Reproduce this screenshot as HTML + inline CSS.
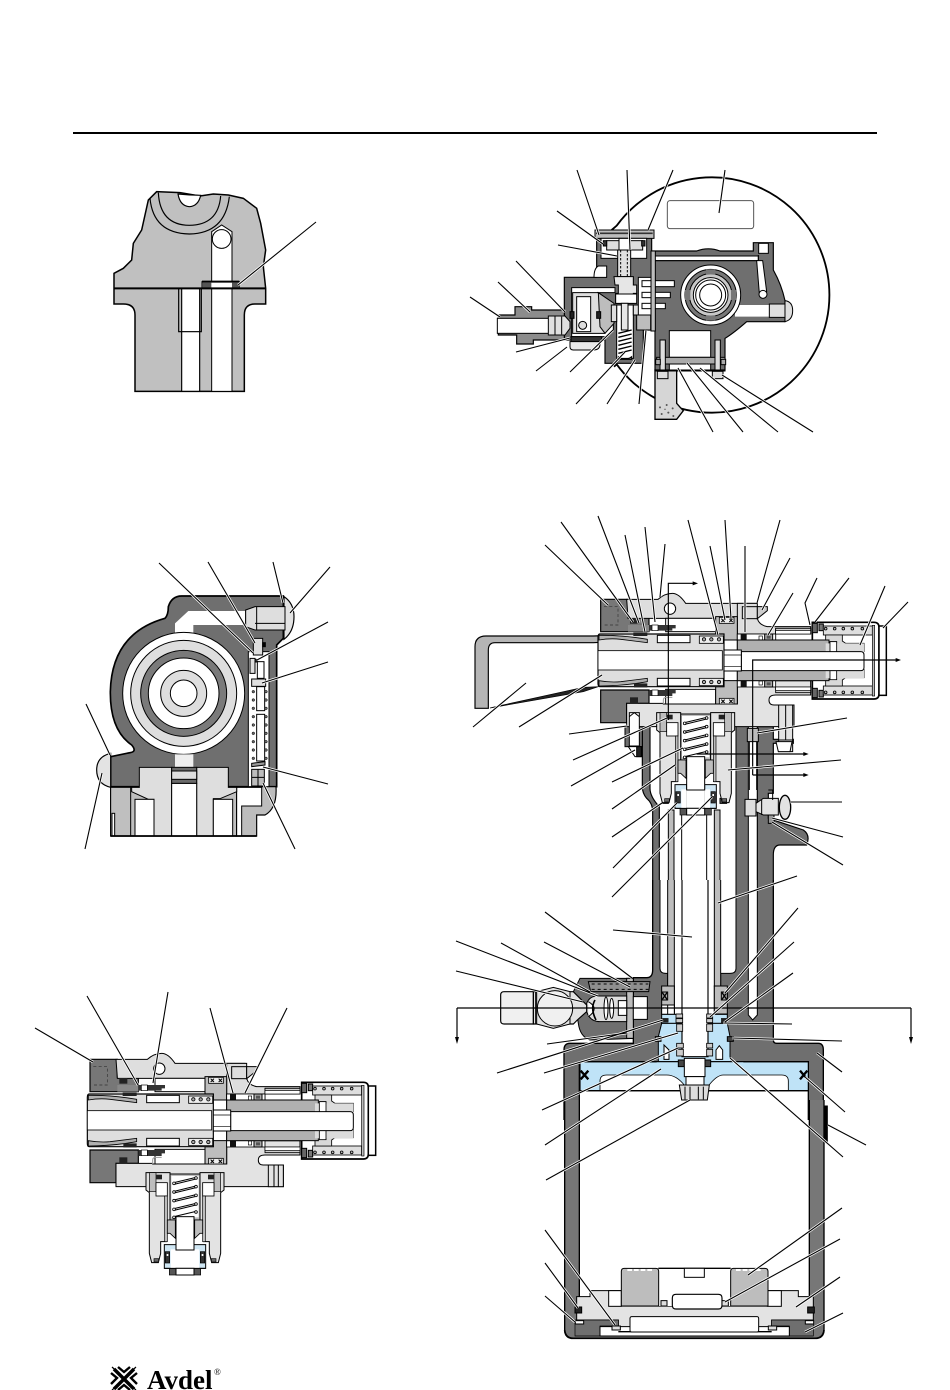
<!DOCTYPE html>
<html><head><meta charset="utf-8"><style>html,body{margin:0;padding:0;background:#fff;width:950px;height:1390px;overflow:hidden}svg{display:block}</style></head>
<body>
<svg width="950" height="1390" viewBox="0 0 950 1390" xmlns="http://www.w3.org/2000/svg" style="font-family:'Liberation Serif',serif">
<defs>
<clipPath id="cp0" clipPathUnits="userSpaceOnUse"><rect x="-500" y="0" width="3000" height="2000"/></clipPath>
<g id="coil">
<g fill="none" stroke="#000" stroke-width="3">
<path d="M432 488L498 472M432 493L498 477M432 514L498 498M432 519L498 503M432 540L498 524M432 545L498 529M432 566L498 550M432 571L498 555M432 590L498 574"/>
</g>
<g fill="#fff" stroke="#000" stroke-width="2.5">
<circle cx="432" cy="490" r="4"/><circle cx="432" cy="516" r="4"/><circle cx="432" cy="542" r="4"/><circle cx="432" cy="568" r="4"/><circle cx="432" cy="592" r="4"/>
<circle cx="498" cy="474" r="4"/><circle cx="498" cy="500" r="4"/><circle cx="498" cy="526" r="4"/><circle cx="498" cy="552" r="4"/><circle cx="498" cy="576" r="4"/>
</g>
</g>
<g id="skirt">
<path d="M348 458H420V600H410V665H392V700L385 728H365L358 700V518L348 510Z" fill="#e3e3e3" stroke="#000" stroke-width="3"/>
<path d="M358 458H378V515H358Z" fill="#bdbdbd" stroke="#000" stroke-width="2"/>
<rect x="378" y="488" width="34" height="40" fill="#fff" stroke="#000" stroke-width="2.5"/>
<rect x="378" y="464" width="18" height="14" fill="#222"/>
<rect x="404" y="528" width="8" height="137" fill="#bdbdbd" stroke="#000" stroke-width="2"/>
<rect x="372" y="716" width="14" height="10" fill="#666" stroke="#000" stroke-width="2"/>
<path d="M412 600H436V655L420 640H412Z" fill="#bdbdbd" stroke="#000" stroke-width="2.5"/>
<path d="M403 674H438V745H403Z" fill="#cfe6f3" stroke="#000" stroke-width="3"/>
<rect x="422" y="688" width="16" height="57" fill="#fff"/>
<rect x="406" y="695" width="13" height="34" fill="#333" stroke="#000" stroke-width="2"/>
<rect x="410" y="702" width="5" height="6" fill="#fff"/>
<rect x="418" y="745" width="20" height="20" fill="#555" stroke="#000" stroke-width="2"/>
</g>
<g id="halfcap">
<rect x="815" y="190" width="15" height="28" fill="#666" stroke="#000" stroke-width="3"/>
<rect x="835" y="192" width="13" height="20" fill="#777" stroke="#000" stroke-width="3"/>
<rect x="848" y="198" width="147" height="27" fill="#dedede" stroke="#000" stroke-width="2.5"/>
<g fill="#bbb" stroke="#000" stroke-width="2.5"><circle cx="855" cy="206" r="4"/><circle cx="882" cy="206" r="4"/><circle cx="908" cy="206" r="4"/><circle cx="935" cy="206" r="4"/><circle cx="965" cy="206" r="4"/></g>
<path d="M855 225H905V243L915 250H970V275H855Z" fill="#d8d8d8" stroke="#000" stroke-width="2.5"/>
<rect x="868" y="245" width="20" height="30" fill="#fff" stroke="#000" stroke-width="2.5"/>
<rect x="590" y="222" width="115" height="19" fill="#fff" stroke="#000" stroke-width="2.5"/>
<rect x="600" y="222" width="18" height="19" fill="#111"/>
<rect x="655" y="228" width="10" height="12" fill="#fff" stroke="#000" stroke-width="2"/>
<rect x="672" y="222" width="24" height="19" fill="#aaa" stroke="#000" stroke-width="3"/>
<rect x="678" y="227" width="12" height="9" fill="#555"/>
<path d="M705 205H810V222H705Z" fill="#cfcfcf" stroke="#000" stroke-width="2.5"/>
<rect x="705" y="212" width="105" height="10" fill="#fff" stroke="#000" stroke-width="2"/>
</g>
<g id="head">
<path d="M180 118H262V172H325V215H180Z" fill="#777" stroke="#000" stroke-width="3.5"/>
<path d="M180 390H325V430H258V488H180Z" fill="#777" stroke="#000" stroke-width="3.5"/>
<path d="M190 140H232V195H190" fill="none" stroke="#333" stroke-width="2" stroke-dasharray="9 7"/>
<path d="M258 118H352Q372 100 395 100Q415 100 435 130H645V175H262V172Z" fill="#dedede" stroke="#000" stroke-width="3"/>
<circle cx="388" cy="146" r="17" fill="#fff" stroke="#000" stroke-width="3"/>
<path d="M590 130H650V175Q655 195 680 200H810V222H590Z" fill="#dedede" stroke="#000" stroke-width="3"/>
<rect x="605" y="140" width="45" height="36" fill="#dedede" stroke="#000" stroke-width="3"/>
<path d="M650 140H680V152L650 176Z" fill="#ccc" stroke="#000" stroke-width="3"/>
<rect x="375" y="175" width="150" height="40" fill="#fff" stroke="#000" stroke-width="3"/>
<path d="M525 170H590V240H550V222H525Z" fill="#bdbdbd" stroke="#000" stroke-width="3"/>
<rect x="536" y="172" width="44" height="18" fill="#eee" stroke="#000" stroke-width="2.5"/>
<path d="M542 176L552 186M552 176L542 186M566 176L576 186M576 176L566 186" stroke="#000" stroke-width="3"/>
<rect x="268" y="174" width="24" height="17" fill="#222"/>
<path d="M262 195H325V215H262Z" fill="#888"/>
<path d="M325 195H405V205H395V212H325Z" fill="#333"/>
<rect x="334" y="195" width="18" height="17" fill="#fff" stroke="#000" stroke-width="2"/>
<use href="#halfcap"/>
<use href="#halfcap" transform="matrix(1 0 0 -1 0 603)"/>
<path d="M590 362H810V405H705Q685 405 685 420Q685 435 700 435H760V500H258V430H368V432H590Z" fill="#e3e3e3" stroke="#000" stroke-width="3"/>
<rect x="715" y="435" width="45" height="65" fill="#e3e3e3" stroke="#000" stroke-width="3"/>
<path d="M732 435V500M745 435V500" stroke="#000" stroke-width="3"/>
<rect x="375" y="388" width="150" height="44" fill="#fff" stroke="#000" stroke-width="3"/>
<path d="M368 432V420Q368 412 378 412H395" fill="none" stroke="#999" stroke-width="3"/>
<path d="M525 380H550V362H590V432H525Z" fill="#bdbdbd" stroke="#000" stroke-width="3"/>
<rect x="536" y="415" width="44" height="17" fill="#eee" stroke="#000" stroke-width="2.5"/>
<path d="M542 419L552 429M552 419L542 429M566 419L576 429M576 419L566 429" stroke="#000" stroke-width="3"/>
<rect x="268" y="412" width="24" height="18" fill="#222"/>
<path d="M325 390H405V400H395V408H325Z" fill="#333"/>
<rect x="334" y="390" width="18" height="17" fill="#fff" stroke="#000" stroke-width="2"/>
<rect x="590" y="240" width="280" height="122" fill="#b0b0b0" stroke="#000" stroke-width="3"/>
<path d="M1000 187H815V417H1000Q1015 417 1015 402V202Q1015 187 1000 187Z" fill="#fff" stroke="#000" stroke-width="5"/>
<use href="#halfcap"/>
<use href="#halfcap" transform="matrix(1 0 0 -1 0 603)"/>
<rect x="590" y="240" width="275" height="122" fill="#b0b0b0" stroke="#000" stroke-width="3"/>
<path d="M855 250H970V355H855Z" fill="#dcdcdc"/>
<rect x="868" y="245" width="20" height="114" fill="#fff" stroke="#000" stroke-width="2.5"/>
<rect x="995" y="196" width="7" height="212" fill="#bbb" stroke="#000" stroke-width="2"/>
<rect x="1015" y="198" width="22" height="208" fill="#fff" stroke="#000" stroke-width="4.5"/>
<path d="M602 275H960Q970 275 970 285V322Q970 332 960 332H602Z" fill="#fff" stroke="#000" stroke-width="3"/>
<path d="M178 222H550V380H178Q172 380 172 370V232Q172 222 178 222Z" fill="#dedede" stroke="#000" stroke-width="3.5"/>
<rect x="172" y="272" width="373" height="58" fill="#fff" stroke="#000" stroke-width="2.5"/>
<rect x="350" y="226" width="98" height="22" fill="#fff" stroke="#000" stroke-width="3"/>
<rect x="350" y="355" width="98" height="23" fill="#fff" stroke="#000" stroke-width="3"/>
<rect x="476" y="228" width="72" height="22" fill="#eee" stroke="#000" stroke-width="2.5"/>
<rect x="476" y="355" width="72" height="22" fill="#eee" stroke="#000" stroke-width="2.5"/>
<g fill="#aaa" stroke="#000" stroke-width="2.5"><circle cx="490" cy="238" r="5"/><circle cx="512" cy="238" r="5"/><circle cx="535" cy="238" r="5"/><circle cx="490" cy="366" r="5"/><circle cx="512" cy="366" r="5"/><circle cx="535" cy="366" r="5"/></g>
<path d="M175 226Q245 225 320 238V248L240 238Q210 234 175 240Z" fill="#b0b0b0" stroke="#000" stroke-width="2.5"/>
<path d="M175 378Q245 378 320 365V355L240 365Q210 368 175 362Z" fill="#b0b0b0" stroke="#000" stroke-width="2.5"/>
<rect x="550" y="270" width="52" height="63" fill="#fff" stroke="#000" stroke-width="3"/>
<path d="M550 285H602M550 320H602" stroke="#000" stroke-width="2"/>
<path d="M278 218H320V228H278ZM280 370H320V382H280Z" fill="#222"/>
<path d="M420 462H510V600H420Z" fill="#bdbdbd" stroke="#000" stroke-width="3"/>
<rect x="424" y="468" width="82" height="124" fill="#fff"/>
<use href="#coil"/>
<use href="#skirt"/>
<use href="#skirt" transform="matrix(-1 0 0 1 930 0)"/>
<rect x="438" y="590" width="54" height="100" fill="#fff" stroke="#000" stroke-width="3"/>
<rect x="438" y="690" width="54" height="55" fill="#fff"/>
<path d="M403 745H527M438 690H492" stroke="#000" stroke-width="3"/>
<rect x="438" y="745" width="54" height="20" fill="#fff" stroke="#000" stroke-width="3"/>
</g>
</defs>

<path d="M73 133H877" stroke="#000" stroke-width="2"/>

<!-- Figure 1 -->
<g transform="translate(100,180) scale(.33333)">
<path d="M42 280V372H70Q105 372 105 405V634H433V405Q433 372 465 372H497V325L490 260L497 210L482 130L470 85L430 55L385 45L340 42L300 48L240 38L170 35L145 60L125 150L100 190L95 240L70 265Z" fill="#c0c0c0" stroke="#000" stroke-width="4.5"/>
<path d="M150 55Q160 160 268 162Q375 160 388 50M175 38Q180 135 268 136Q355 135 362 48" fill="none" stroke="#000" stroke-width="3.5"/>
<path d="M234 42Q240 78 268 80Q295 78 302 46Q268 45 234 42Z" fill="#fff" stroke="#000" stroke-width="3.5"/>
<path d="M335 155L365 135L396 155V634H335Z" fill="#fff" stroke="#000" stroke-width="3"/>
<circle cx="365" cy="177" r="28" fill="#fff" stroke="#000" stroke-width="3"/>
<rect x="245" y="325" width="54" height="309" fill="#fff" stroke="#000" stroke-width="3.5"/>
<rect x="236" y="325" width="68" height="130" fill="none" stroke="#000" stroke-width="3.5"/>
<rect x="306" y="305" width="112" height="20" fill="#fff" stroke="#000" stroke-width="3"/>
<rect x="308" y="308" width="26" height="17" fill="#555"/>
<rect x="396" y="308" width="22" height="17" fill="#555"/>
<path d="M306 305H418" stroke="#000" stroke-width="6"/>
<path d="M42 325H497" stroke="#000" stroke-width="6"/>
</g>

<!-- Figure 2 -->
<g transform="translate(470,170) scale(.33333)" stroke="#000" stroke-width="3">
<path d="M425 180L440 167A353 353 0 1 1 440 583L432 590" fill="none" stroke-width="5.5"/>
<rect x="592" y="92" width="259" height="84" rx="8" fill="#fff" stroke="#555" stroke-width="3"/>
<path d="M555 600V748H620L640 722Q630 712 620 700V600Z" fill="#d6d6d6" stroke-width="4"/>
<g fill="#555" stroke="none"><circle cx="570" cy="712" r="3"/><circle cx="590" cy="705" r="3"/><circle cx="608" cy="715" r="3"/><circle cx="575" cy="732" r="3"/><circle cx="595" cy="728" r="3"/><circle cx="610" cy="738" r="3"/><circle cx="585" cy="718" r="2"/></g>
<path d="M545 243H680Q715 230 750 243H850V218H910V300Q935 345 945 392V455H830Q790 490 765 505V600H555V243Z" fill="#6f6f6f" stroke-width="3.5"/>
<rect x="545" y="258" width="320" height="14" fill="#fff"/>
<path d="M545 272H865V255" fill="none"/>
<rect x="866" y="220" width="29" height="30" fill="#fff"/>
<path d="M860 272L868 370L890 365L878 272Z" fill="#fff"/>
<circle cx="879" cy="373" r="12" fill="#fff"/>
<path d="M795 405H900V440H795Z" fill="#fff" stroke="none"/>
<path d="M898 402H945V442H898Z" fill="#dedede"/>
<path d="M945 392Q968 395 968 422Q968 450 945 455Z" fill="#dedede"/>
<circle cx="722" cy="375" r="90" fill="#fff" stroke-width="3"/>
<circle cx="722" cy="375" r="77" fill="#777"/>
<circle cx="722" cy="375" r="64" fill="#c8c8c8"/>
<circle cx="722" cy="375" r="52" fill="#fff"/>
<circle cx="722" cy="375" r="45" fill="#fff"/>
<circle cx="722" cy="375" r="33" fill="#fff"/>
<rect x="708" y="298" width="28" height="15" fill="#777" stroke="none"/>
<rect x="708" y="437" width="28" height="15" fill="#777" stroke="none"/>
<rect x="645" y="360" width="16" height="30" fill="#777" stroke="none"/>
<rect x="783" y="360" width="16" height="30" fill="#777" stroke="none"/>
<rect x="598" y="482" width="124" height="80" fill="#fff"/>
<rect x="560" y="562" width="205" height="20" fill="#aaa"/>
<rect x="598" y="582" width="124" height="18" fill="#fff"/>
<g fill="#dedede"><rect x="570" y="510" width="16" height="115"/><rect x="735" y="510" width="16" height="115"/></g>
<rect x="555" y="600" width="210" height="3" fill="#000"/>
<path d="M380 200H545V480H520V580H405V510H283V322H380Z" fill="#6f6f6f" stroke-width="3.5"/>
<path d="M375 180H552V205H375Z" fill="#bdbdbd"/>
<path d="M378 190H548" stroke-width="5" stroke="#333"/>
<path d="M283 420H185V410H135V435H85V495H140V522H190V510H283Z" fill="#8c8c8c" stroke-width="3.5"/>
<rect x="393" y="205" width="137" height="60" fill="#fff" stroke-width="3"/>
<rect x="410" y="212" width="108" height="28" fill="#dedede"/>
<rect x="400" y="212" width="10" height="16" fill="#333"/>
<rect x="515" y="212" width="10" height="16" fill="#333"/>
<path d="M447 205H478V240H447Z" fill="#fff"/>
<path d="M443 240H482V320H443Z" fill="#e0e0e0"/>
<path d="M452 240V318M472 240V318" stroke-dasharray="7 5" fill="none"/>
<path d="M372 322Q372 295 385 288H410V322Z" fill="#fff"/>
<path d="M305 353H435V368H385L430 400V480L410 500H305Z" fill="#fff"/>
<path d="M308 368H385L405 420V490H308Z" fill="#dedede"/>
<path d="M385 368L432 400V460L405 490L390 470Z" fill="#bdbdbd"/>
<rect x="320" y="380" width="42" height="105" fill="#fff"/>
<circle cx="338" cy="466" r="12" fill="#dedede"/>
<path d="M303 500H395V515H303Z" fill="#333"/>
<path d="M300 515H390V522Q390 540 370 540H310Q300 540 300 530Z" fill="#e9e9e9"/>
<rect x="300" y="425" width="12" height="20" fill="#222"/>
<rect x="380" y="425" width="12" height="20" fill="#222"/>
<rect x="82" y="445" width="155" height="45" fill="#fff"/>
<path d="M235 438H285L300 455V475L285 495H235Z" fill="#e0e0e0"/>
<path d="M255 438V495M275 440V493" fill="none"/>
<path d="M432 320H490V345H500V370H490V400H437V370H445V345H435Z" fill="#e6e6e6"/>
<path d="M437 372H500V400H437Z" fill="#fff"/>
<path d="M440 405H490V565H440Z" fill="#fff"/>
<rect x="454" y="400" width="20" height="80" fill="#e6e6e6"/>
<g fill="none" stroke-width="4"><path d="M445 490L485 480M445 502L485 492M445 514L485 504M445 526L485 516M445 538L485 528M445 550L485 540"/></g>
<path d="M445 560Q465 575 485 560V568H445Z" fill="#6f6f6f"/>
<path d="M424 405H440V455H424ZM490 405H520V435H490Z" fill="#dedede"/>
<path d="M505 322H555V435H505Z" fill="#fff"/>
<path d="M500 435H542V480H500Z" fill="#bdbdbd"/>
<rect x="516" y="332" width="97" height="18" fill="#fff"/>
<rect x="516" y="367" width="85" height="16" fill="#fff"/>
<rect x="516" y="400" width="70" height="16" fill="#fff"/>
<rect x="543" y="243" width="13" height="240" fill="#bdbdbd"/>
<g fill="#aaa"><rect x="557" y="568" width="14" height="16"/><rect x="753" y="568" width="14" height="16"/><rect x="562" y="604" width="32" height="22" fill="#ddd"/><rect x="727" y="604" width="32" height="22" fill="#ddd"/></g>
</g>

<!-- Figure 3 -->
<g transform="translate(80,560) scale(.33333)" stroke="#000" stroke-width="3">
<path d="M92 590L150 578Q172 575 155 555Q90 510 91 395Q95 220 255 175Q265 165 265 140Q275 108 305 108H610V235L590 255V680H92Z" fill="#6f6f6f" stroke-width="5"/>
<path d="M92 580Q50 590 50 630Q50 672 92 682Z" fill="#e3e3e3" stroke-width="3.5"/>
<path d="M612 110Q642 130 642 170Q642 215 612 238Z" fill="#e3e3e3" stroke-width="3.5"/>
<path d="M285 218V190L325 153H495V195H340V222Z" fill="#fff" stroke="none"/>
<path d="M497 150L525 140H615V210H525L497 200Z" fill="#dedede"/>
<path d="M530 140V210M525 190H615" fill="none"/>
<circle cx="311" cy="400" r="183" fill="#fff"/>
<circle cx="311" cy="400" r="159" fill="#dedede"/>
<circle cx="311" cy="400" r="129" fill="#7a7a7a"/>
<circle cx="311" cy="400" r="106" fill="#fff"/>
<circle cx="311" cy="400" r="69" fill="#dedede"/>
<circle cx="311" cy="400" r="40" fill="#fff"/>
<rect x="285" y="583" width="55" height="40" fill="#eee" stroke="none"/>
<rect x="505" y="275" width="62" height="408" fill="#fff"/>
<path d="M510 295H525V340H510Z" fill="#dedede"/>
<path d="M520 235H548V285H520Z" fill="#dedede"/>
<rect x="548" y="248" width="8" height="12" fill="#000"/>
<rect x="525" y="298" width="8" height="8" fill="#333"/>
<rect x="532" y="305" width="20" height="50" fill="#fff"/>
<rect x="515" y="357" width="42" height="22" fill="#e0e0e0"/>
<rect x="530" y="380" width="24" height="72" fill="#fff"/>
<rect x="530" y="463" width="24" height="140" fill="#fff"/>
<g fill="#666" stroke-width="1.5"><circle cx="520" cy="395" r="4"/><circle cx="520" cy="420" r="4"/><circle cx="520" cy="445" r="4"/><circle cx="520" cy="470" r="4"/><circle cx="520" cy="495" r="4"/><circle cx="520" cy="520" r="4"/><circle cx="520" cy="545" r="4"/><circle cx="520" cy="570" r="4"/><circle cx="520" cy="595" r="4"/><circle cx="558" cy="395" r="4"/><circle cx="558" cy="420" r="4"/><circle cx="558" cy="445" r="4"/><circle cx="558" cy="470" r="4"/><circle cx="558" cy="495" r="4"/><circle cx="558" cy="520" r="4"/><circle cx="558" cy="545" r="4"/><circle cx="558" cy="570" r="4"/><circle cx="558" cy="595" r="4"/></g>
<path d="M515 610L555 605V615L515 620Z" fill="#999"/>
<rect x="515" y="628" width="38" height="50" fill="#bdbdbd"/>
<path d="M534 628V678M515 652H553" fill="none"/>
<path d="M92 682H470V828H92Z" fill="#bfbfbf" stroke-width="3.5"/>
<path d="M530 680H588Q592 745 555 765H530V828H470V680Z" fill="#bdbdbd" stroke-width="3.5"/>
<path d="M470 682H545V738H485V828H470Z" fill="#fff"/>
<rect x="92" y="682" width="60" height="146" fill="#bfbfbf"/>
<rect x="96" y="760" width="8" height="68" fill="#fff"/>
<path d="M178 622H275V828H222V718H205L155 695V682H178Z" fill="#dedede"/>
<path d="M350 622H445V682H470V695L420 716H400V828H350Z" fill="#dedede"/>
<rect x="165" y="718" width="57" height="110" fill="#fff"/>
<rect x="400" y="718" width="58" height="110" fill="#fff"/>
<rect x="275" y="670" width="75" height="158" fill="#fff"/>
<rect x="275" y="622" width="75" height="48" fill="#6a6a6a"/>
<rect x="275" y="633" width="75" height="25" fill="#dedede"/>
<path d="M92 828H530" stroke-width="5"/>
</g>

<!-- Figure 4 -->
<g transform="translate(30,1020) scale(.33333)">
<use href="#head"/>
</g>

<!-- Figure 5 upper -->
<g transform="translate(470,580) scale(.33333)" stroke="#000" stroke-width="3">
<path d="M517 430H540V625Q540 650 568 680V906H548V695Q548 670 530 655Q517 640 517 620Z" fill="#6f6f6f" stroke-width="3.5"/>
<rect x="798" y="430" width="37" height="476" fill="#6f6f6f"/>
<path d="M862 440H910V478H970V490H910V640H895V715L1000 750Q1022 765 1010 795H930Q910 795 910 825V906H862Z" fill="#6f6f6f" stroke-width="3.5"/>
<rect x="465" y="438" width="52" height="62" fill="#6f6f6f"/>
<rect x="595" y="690" width="17" height="216" fill="#bdbdbd"/>
<rect x="733" y="690" width="17" height="216" fill="#bdbdbd"/>
<path d="M635 700V906M710 700V906" fill="none"/>
<path d="M578 655H595V670H578ZM750 655H770V670H750Z" fill="#666"/>
<path d="M15 385V200Q15 168 48 168H370Q420 165 460 175H530V190H460Q410 185 370 188H75Q55 188 55 210V385Z" fill="#b5b5b5" stroke-width="3.5"/>
<path d="M60 384L340 335L385 320L340 322L85 378Z" fill="#222" stroke-width="2"/>
<use href="#head" transform="translate(212,-60)" stroke="none"/>
<path d="M926 375H968V515H926Z" fill="#e3e3e3"/>
<path d="M947 375V480M926 480H968" fill="none"/>
<path d="M918 485H966L960 515H925Z" fill="#fff"/>
<rect x="478" y="398" width="30" height="100" fill="#fff"/>
<path d="M478 410L493 398L508 410" fill="#fff"/>
<path d="M475 500H515V530H495Z" fill="#fff"/>
<rect x="500" y="500" width="14" height="30" fill="#222"/>
<path d="M832 445H865V485H832Z" fill="#bdbdbd"/>
<path d="M838 485V630M860 485V630" fill="none" stroke="#000"/>
<path d="M825 658H858V708H825Z" fill="#dedede"/>
<path d="M858 670L880 655H925V705H880L858 695Z" fill="#e3e3e3"/>
<path d="M875 660V705M895 630H908V660" fill="none"/>
<path d="M895 705H912V730H895Z" fill="#999"/>
<ellipse cx="945" cy="682" rx="17" ry="36" fill="#e3e3e3" stroke-width="4"/>
<g fill="none" stroke-width="3.5">
<path d="M595 420V10H672M680 522H1005M848 585V240H1280M848 585H1005"/>
</g>
<g fill="#000" stroke="none">
<path d="M684 10L668 4V16Z"/><path d="M1016 522L1000 516V528Z"/><path d="M1016 585L1000 579V591Z"/><path d="M1293 240L1277 234V246Z"/>
</g>
</g>

<!-- Figure 6 -->
<g transform="translate(490,880) scale(.33333)" stroke="#000" stroke-width="3" clip-path="url(#cp0)">
<path d="M488 -6V270Q488 293 470 293H430V490H240Q222 490 222 510V720H268V545H955V720H1000V510Q1000 490 985 490H860Q850 490 850 480V-6Z" fill="#6f6f6f" stroke="none"/>
<path d="M488 -6V270Q488 293 470 293H430V490H240Q222 490 222 510V720M268 720V545H955V720M1000 720V510Q1000 490 985 490H860Q850 490 850 480V-6" fill="none" stroke-width="4"/>
<path d="M775 -6H802V405L788 420L775 405Z" fill="#fff"/>
<path d="M510 -6H738V265Q738 280 720 280H692V318H673V405H553V318H533V280H528Q510 280 510 265Z" fill="#fff"/>
<rect x="533" y="-6" width="20" height="324" fill="#bdbdbd"/>
<rect x="673" y="-6" width="19" height="324" fill="#bdbdbd"/>
<path d="M515 318H553V400H515Z" fill="#bdbdbd"/>
<path d="M673 318H712V402H673Z" fill="#bdbdbd"/>
<rect x="515" y="375" width="38" height="28" fill="#fff"/>
<path d="M533 375V403" fill="none"/>
<rect x="515" y="336" width="18" height="24" fill="#aaa"/>
<path d="M517 338L531 358M531 338L517 358" stroke-width="4"/>
<rect x="694" y="336" width="18" height="24" fill="#aaa"/>
<path d="M696 338L710 358M710 338L696 358" stroke-width="4"/>
<path d="M515 403H578V430H515Z" fill="#bfe3f7"/>
<path d="M650 403H712V430H650Z" fill="#bfe3f7"/>
<path d="M505 470L515 430H712L720 470V530L725 545H505Z" fill="#bfe3f7"/>
<rect x="515" y="415" width="20" height="12" fill="#222" stroke-width="1"/>
<rect x="694" y="415" width="18" height="14" fill="#222" stroke-width="1"/>
<rect x="496" y="470" width="17" height="14" fill="#999"/>
<rect x="712" y="470" width="18" height="14" fill="#444"/>
<path d="M270 545H955V632H270Z" fill="#bfe3f7" stroke-width="3.5"/>
<path d="M330 632V603Q330 585 350 585H530Q560 585 585 618V632Z" fill="#fff" stroke-width="2.5"/>
<path d="M895 632V603Q895 585 875 585H700Q680 585 655 618V632Z" fill="#fff" stroke-width="2.5"/>
<path d="M270 632H955" stroke-width="4"/>
<path d="M576 -6V530H654V-6" fill="#fff" stroke-width="3.5"/>
<path d="M270 545H500M760 545H955" fill="none" stroke-width="4"/>
<path d="M522 495L537 510V538H522ZM678 510L688 497L698 510V538H678Z" fill="#fff"/>
<g fill="#ccc" stroke-width="2.5">
<rect x="558" y="402" width="20" height="12"/><rect x="558" y="416" width="20" height="12"/><rect x="560" y="432" width="18" height="22"/>
<rect x="650" y="402" width="18" height="12"/><rect x="650" y="416" width="18" height="12"/><rect x="650" y="432" width="18" height="22"/>
<rect x="560" y="490" width="20" height="14"/><rect x="560" y="508" width="20" height="20"/>
<rect x="650" y="490" width="18" height="14"/><rect x="650" y="508" width="18" height="20"/>
</g>
<path d="M565 540H583V560H565ZM645 540H662V560H645Z" fill="#444"/>
<path d="M583 535H645V590H583Z" fill="#fff"/>
<path d="M588 590H642V615H588Z" fill="#fff"/>
<path d="M568 615H658L652 660H575Z" fill="#ddd"/>
<path d="M585 620V658M600 620V658M625 620V658M640 620V658" fill="none"/>
<path d="M272 572L295 598M295 572L272 598" stroke-width="7"/>
<path d="M930 572L952 598M952 572L930 598" stroke-width="7"/>
<path d="M250 335L270 295H430V475L300 480Q270 470 265 430Z" fill="#6f6f6f" stroke-width="3"/>
<rect x="410" y="295" width="20" height="180" fill="#bdbdbd"/>
<path d="M295 305H480L476 335H302Z" fill="#8f8f8f"/>
<path d="M305 312H475M305 328H475" stroke-dasharray="9 9" stroke-width="3" fill="none"/>
<path d="M430 350H472V418H430Z" fill="#fff"/>
<path d="M290 370Q300 345 330 348H410V425H330Q300 425 290 395Z" fill="#dedede"/>
<ellipse cx="348" cy="385" rx="6" ry="34" fill="#fff"/><ellipse cx="365" cy="385" rx="6" ry="30" fill="#fff"/>
<path d="M385 362H410V406H385Z" fill="#fff"/>
<path d="M295 365Q330 385 295 410" fill="#fff"/>
<path d="M315 360Q300 385 318 420" fill="none" stroke-width="5"/>
<path d="M250 335H130V432H250L262 420L290 395V375Z" fill="#e3e3e3" stroke-width="3.5"/>
<path d="M140 335L190 322L240 335V432L190 445L140 432Z" fill="#e3e3e3"/>
<circle cx="195" cy="385" r="53" fill="#f0f0f0"/>
<path d="M130 335H42Q32 335 32 345V422Q32 432 42 432H130Z" fill="#f0f0f0" stroke-width="3.5"/>
<path d="M130 335V432M137 335V432" fill="none"/>
</g>

<!-- Figure 7 -->
<g transform="translate(550,1100) scale(.33333)" stroke="#000" stroke-width="3">
<path d="M44 0H88V590H778V0H822V688Q822 715 795 715H70Q44 715 44 688Z" fill="#777" stroke="none"/>
<path d="M44 0V688Q44 715 70 715H795Q822 715 822 688V0M88 0V590M778 0V590" fill="none" stroke-width="4"/>
<path d="M822 18H832V125H822Z" fill="#000"/>
<path d="M80 590H120V572H745V590H790V660H665V695H205V660H80Z" fill="#e3e3e3" stroke-width="3"/>
<path d="M75 660H205V678H150V708H75Z" fill="#6f6f6f" stroke-width="2"/>
<path d="M790 660H665V678H718V708H790Z" fill="#6f6f6f" stroke-width="2"/>
<path d="M150 680H718V708H150Z" fill="#fff" stroke-width="3"/>
<path d="M205 695H665" stroke-width="4"/>
<rect x="240" y="650" width="386" height="46" rx="5" fill="#fff"/>
<rect x="176" y="572" width="38" height="47" fill="#fff"/>
<rect x="652" y="572" width="42" height="47" fill="#fff"/>
<path d="M214 618H652" stroke-width="3.5"/>
<rect x="325" y="505" width="217" height="113" fill="#fff" stroke="none"/>
<path d="M325 505H542" stroke-width="4"/>
<rect x="403" y="505" width="60" height="27" fill="#fff"/>
<path d="M222 505H318Q326 505 326 515V618H214V515Q214 505 222 505Z" fill="#bdbdbd"/>
<path d="M550 505H645Q654 505 654 515V618H542V515Q542 505 550 505Z" fill="#bdbdbd"/>
<path d="M232 510H312M558 510H638" stroke="#fff" stroke-width="6" stroke-dasharray="14 6"/>
<path d="M367 594Q367 583 378 583H505Q516 583 516 594V616Q516 627 505 627H378Q367 627 367 616Z" fill="#fff" stroke-width="3.5"/>
<path d="M333 602H351V618H333ZM516 602H535V618H516Z" fill="#ddd"/>
<rect x="75" y="621" width="20" height="18" fill="#222"/>
<rect x="773" y="621" width="20" height="18" fill="#222"/>
<rect x="76" y="662" width="25" height="10" fill="#fff"/>
<rect x="766" y="662" width="25" height="10" fill="#fff"/>
<rect x="186" y="678" width="25" height="12" fill="#ddd"/>
<rect x="655" y="678" width="25" height="12" fill="#ddd"/>
<path d="M44 690Q46 715 70 715H795Q820 715 822 690" fill="none" stroke-width="5"/>
</g>

<path d="M457 1008H911M457 1008V1038M911 1008V1038" fill="none" stroke="#000" stroke-width="1.2"/>
<path d="M457 1044L455 1037H459Z M911 1044L909 1037H913Z"/>

<path fill="none" stroke="#fff" stroke-width="2.6" d="M316 222L238 285M577 170L599 235M627 170L630 250M673 170L648 230M725 170L719 213M557 211L603 244M558 245L617 256M516 261L565 312M498 282L530 312M470 297L500 317M516 352L570 338M536 371L567 347M570 372L613 330M576 404L625 352M607 404L635 360M639 404L646 330M713 432L678 368M743 432L687 363M778 432L700 368M813 432L722 375M159 563L253 653M208 562L255 643M273 562L283 603M330 567L290 613M328 622L257 660M328 662L262 683M328 784L263 767M295 849L263 783M86 704L110 755M85 849L102 773M35 1028L93 1062M87 996L138 1085M168 992L153 1083M210 1008L233 1093M287 1008L245 1093M545 545L608 605M561 522L633 622M598 516L639 623M625 535L645 632M645 527L655 622M665 544L660 597M688 520L718 635M710 546L725 620M725 520L731 619M745 546L745 632M780 520L757 603M790 558L762 610M793 593L768 635M817 578L805 603L810 625M849 578L815 622M885 586L860 645M908 602L883 628M473 727L526 683M519 727L602 675M569 734L627 726M573 760L667 718M571 786L635 750M612 782L683 748M612 809L675 765M612 837L662 803M613 868L677 803M612 897L712 797M847 718L757 733M841 760L728 770M842 802L790 802M843 837L772 818M843 865L772 822M797 876L718 903M613 930L692 937M545 912L632 978M544 942L630 987M501 943L590 992M456 941L598 996M456 971L583 1002M798 908L725 993M794 942L710 1017M793 973L725 1022M792 1024L723 1023M842 1041L732 1038M842 1072L817 1053M845 1112L805 1077M547 1044L627 1033M497 1073L663 1020M544 1073L678 1033M542 1110L678 1048M545 1145L661 1069M546 1180L690 1100M843 1157L730 1058M866 1145L828 1125M842 1208L748 1275M840 1239L725 1302M840 1277L796 1307M843 1313L805 1332M545 1230L615 1325M545 1263L578 1308M545 1296L575 1322"/>
<path fill="none" stroke="#000" stroke-width="1.1" d="M316 222L238 285M577 170L599 235M627 170L630 250M673 170L648 230M725 170L719 213M557 211L603 244M558 245L617 256M516 261L565 312M498 282L530 312M470 297L500 317M516 352L570 338M536 371L567 347M570 372L613 330M576 404L625 352M607 404L635 360M639 404L646 330M713 432L678 368M743 432L687 363M778 432L700 368M813 432L722 375M159 563L253 653M208 562L255 643M273 562L283 603M330 567L290 613M328 622L257 660M328 662L262 683M328 784L263 767M295 849L263 783M86 704L110 755M85 849L102 773M35 1028L93 1062M87 996L138 1085M168 992L153 1083M210 1008L233 1093M287 1008L245 1093M545 545L608 605M561 522L633 622M598 516L639 623M625 535L645 632M645 527L655 622M665 544L660 597M688 520L718 635M710 546L725 620M725 520L731 619M745 546L745 632M780 520L757 603M790 558L762 610M793 593L768 635M817 578L805 603L810 625M849 578L815 622M885 586L860 645M908 602L883 628M473 727L526 683M519 727L602 675M569 734L627 726M573 760L667 718M571 786L635 750M612 782L683 748M612 809L675 765M612 837L662 803M613 868L677 803M612 897L712 797M847 718L757 733M841 760L728 770M842 802L790 802M843 837L772 818M843 865L772 822M797 876L718 903M613 930L692 937M545 912L632 978M544 942L630 987M501 943L590 992M456 941L598 996M456 971L583 1002M798 908L725 993M794 942L710 1017M793 973L725 1022M792 1024L723 1023M842 1041L732 1038M842 1072L817 1053M845 1112L805 1077M547 1044L627 1033M497 1073L663 1020M544 1073L678 1033M542 1110L678 1048M545 1145L661 1069M546 1180L690 1100M843 1157L730 1058M866 1145L828 1125M842 1208L748 1275M840 1239L725 1302M840 1277L796 1307M843 1313L805 1332M545 1230L615 1325M545 1263L578 1308M545 1296L575 1322"/>

<!-- logo -->
<g stroke="#000" fill="none">
<path d="M114 1369L134 1389M134 1369L114 1389" stroke-width="3.5"/>
<path d="M112 1367L124 1378L136 1367M112 1390L124 1380L136 1390" stroke-width="1.2"/>
<path d="M118 1367L124 1372L130 1367M118 1390L124 1385L130 1390M111 1373L117 1378L111 1384M137 1373L131 1378L137 1384" stroke-width="2.4"/>
</g>
<text x="147" y="1389" font-size="27" font-weight="700" fill="#000">Avdel</text>
<text x="214" y="1375" font-size="9" fill="#000">®</text>
</svg>
</body></html>
